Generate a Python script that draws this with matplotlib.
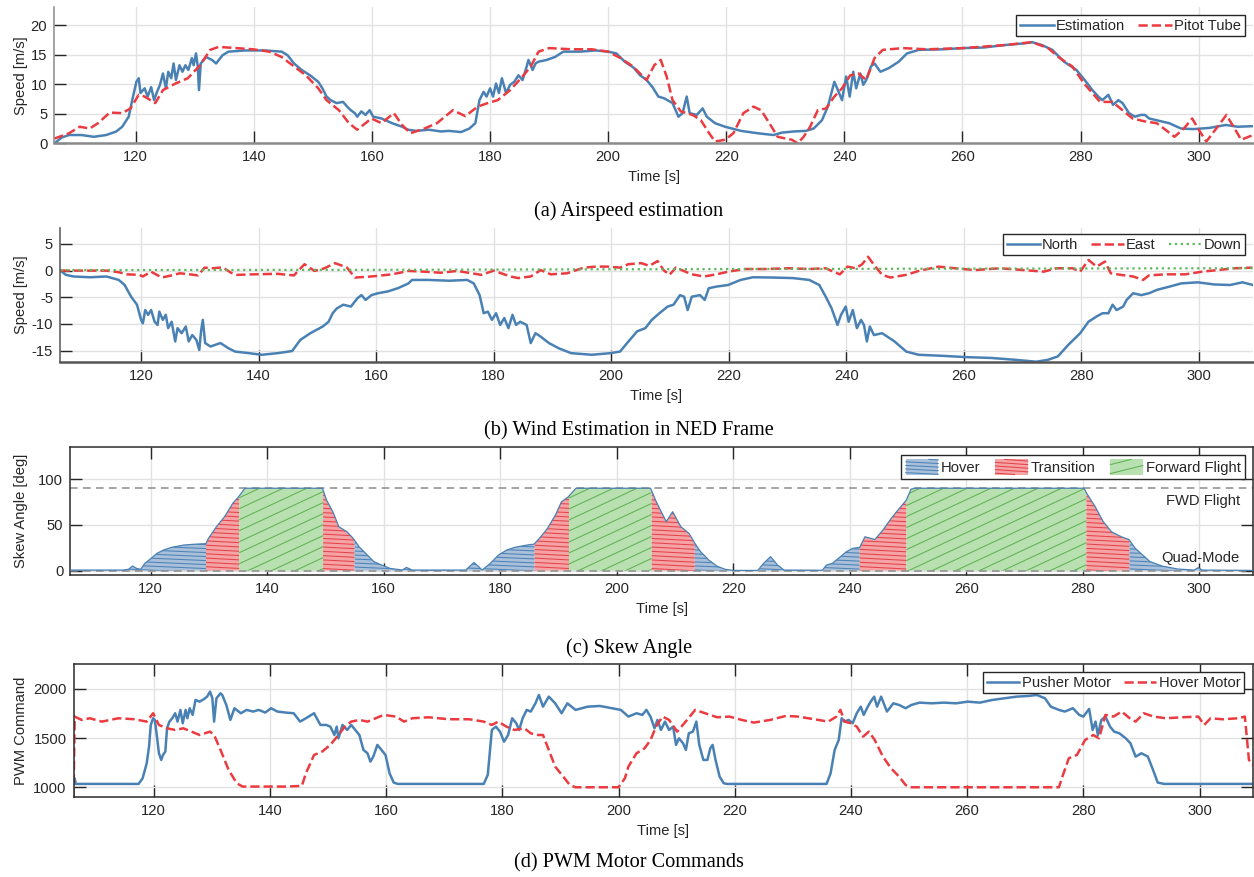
import numpy as np
import matplotlib
matplotlib.use('Agg')
import matplotlib.pyplot as plt
from matplotlib.collections import LineCollection
from matplotlib.patches import Patch, Rectangle
from matplotlib.lines import Line2D
from matplotlib.legend_handler import HandlerBase

# ---------------- data (time [s], value) ----------------
airspeed_est = [
    (106.2, 0.0), (107.5, 1.0), (108.7, 1.4), (110.8, 1.4), (112.9, 1.1), (115.0, 1.4), (116.7, 2.0),
    (117.7, 2.8), (118.8, 4.5), (119.4, 7.3), (120.1, 10.4), (120.5, 11.0), (120.8, 8.5), (121.5, 9.3),
    (122.0, 7.9), (122.6, 9.5), (123.1, 7.3), (123.6, 8.7), (124.1, 9.9), (124.6, 11.8), (125.1, 9.3),
    (125.5, 12.1), (126.0, 11.0), (126.4, 13.5), (126.8, 10.7), (127.4, 13.2), (127.9, 12.1), (128.4, 13.2),
    (128.9, 12.4), (129.5, 14.4), (129.8, 13.2), (130.2, 15.2), (130.5, 13.0), (130.7, 9.0), (131.0, 13.5),
    (131.9, 14.6), (132.9, 14.1), (133.6, 13.5), (134.7, 14.9), (135.7, 15.5), (138.5, 15.7), (141.9, 15.7),
    (144.7, 15.5), (145.7, 14.9), (146.8, 13.5), (148.1, 12.4), (149.5, 11.5), (150.9, 10.4), (151.6, 9.3),
    (152.3, 7.9), (153.0, 7.3), (154.0, 6.8), (155.1, 7.0), (155.8, 6.2), (156.4, 5.6), (157.1, 5.1),
    (157.5, 4.5), (158.2, 5.4), (158.9, 4.8), (159.6, 5.6), (160.2, 4.5), (161.6, 4.2), (163.4, 3.4),
    (165.1, 2.8), (166.1, 2.3), (167.5, 2.1), (169.6, 2.3), (171.7, 2.0), (173.0, 2.1), (175.1, 1.9),
    (176.5, 2.5), (177.5, 3.4), (178.2, 7.3), (178.9, 8.7), (179.4, 7.9), (180.0, 9.3), (180.5, 7.9),
    (181.0, 10.1), (181.5, 8.5), (182.0, 11.0), (182.7, 8.5), (183.4, 9.9), (184.1, 10.4), (184.8, 11.5),
    (185.5, 10.7), (186.2, 13.0), (186.5, 14.1), (187.2, 12.4), (187.7, 13.5), (188.2, 13.8), (189.6, 14.1),
    (191.0, 14.6), (192.4, 15.5), (195.2, 15.5), (197.9, 15.7), (200.0, 15.5), (201.4, 15.2), (202.8, 13.8),
    (204.3, 12.8), (205.4, 11.5), (206.5, 10.7), (207.5, 9.5), (208.5, 7.9), (209.5, 7.6), (210.9, 6.8),
    (211.9, 4.5), (212.6, 5.1), (213.3, 7.9), (213.8, 5.1), (215.0, 4.8), (216.0, 5.9), (216.7, 4.5),
    (218.1, 3.4), (219.8, 2.8), (222.5, 2.1), (225.3, 1.7), (228.0, 1.4), (229.4, 1.8), (231.4, 2.0),
    (233.5, 2.1), (234.8, 2.5), (236.2, 3.9), (237.2, 6.2), (238.3, 10.4), (238.9, 9.0), (239.6, 7.3),
    (240.3, 11.3), (240.9, 7.9), (241.5, 12.1), (242.0, 9.3), (242.7, 11.8), (243.2, 9.9), (243.7, 10.7),
    (244.5, 13.0), (245.1, 13.5), (246.1, 12.1), (247.5, 12.7), (249.2, 13.8), (250.6, 15.2), (252.6, 15.8),
    (256.7, 15.9), (260.1, 16.1), (263.6, 16.2), (267.0, 16.6), (270.4, 16.9), (271.8, 17.1), (273.5, 16.6),
    (275.2, 15.8), (277.2, 13.8), (279.3, 12.4), (280.7, 10.7), (282.0, 9.0), (283.0, 7.9), (283.7, 7.3),
    (284.7, 8.2), (285.5, 6.5), (286.4, 7.3), (287.1, 6.8), (288.2, 5.1), (289.2, 4.5), (290.2, 4.8),
    (290.9, 4.8), (291.6, 4.2), (292.9, 3.9), (295.0, 3.4), (297.0, 2.5), (299.1, 2.4), (301.8, 2.6),
    (304.6, 3.1), (306.6, 2.8), (309.2, 2.9)]

airspeed_pitot = [
    (106.2, 0.8), (108.7, 1.7), (110.5, 2.8), (112.2, 2.5), (113.6, 3.4), (115.6, 5.2), (117.7, 5.1),
    (119.1, 5.9), (120.5, 8.2), (121.5, 7.9), (123.3, 6.8), (124.6, 9.0), (126.7, 10.1), (128.8, 11.0),
    (130.9, 13.2), (132.6, 15.8), (134.0, 16.3), (137.1, 16.1), (139.8, 15.9), (142.6, 15.5), (144.7, 14.6),
    (146.8, 13.0), (148.8, 11.5), (150.9, 9.3), (152.3, 7.3), (154.4, 5.6), (156.1, 3.4), (157.5, 2.3),
    (158.9, 3.4), (159.9, 4.2), (161.6, 3.4), (163.7, 5.1), (165.1, 3.1), (166.5, 1.7), (168.9, 2.5),
    (171.0, 3.4), (173.7, 5.6), (175.8, 4.6), (177.9, 6.2), (179.6, 6.8), (181.3, 7.3), (183.4, 9.0),
    (185.5, 11.3), (186.9, 13.0), (188.2, 15.5), (190.0, 16.1), (193.8, 15.9), (197.2, 15.9), (200.0, 15.5),
    (202.1, 14.4), (204.2, 13.0), (206.5, 10.7), (207.8, 13.2), (208.9, 14.1), (209.9, 11.3), (210.9, 7.3),
    (212.3, 5.4), (214.3, 4.8), (215.7, 3.9), (217.1, 1.7), (218.1, 0.3), (219.8, 0.6), (221.2, 1.7),
    (222.9, 5.1), (224.6, 6.2), (225.9, 5.6), (227.3, 3.4), (228.7, 1.1), (230.1, 0.8), (231.1, 0.6),
    (232.1, 0.0), (233.1, 1.1), (234.2, 2.8), (235.5, 5.6), (236.9, 5.9), (238.3, 7.9), (239.6, 9.3),
    (241.0, 11.5), (242.4, 11.8), (243.7, 10.7), (245.1, 14.4), (246.5, 15.8), (249.9, 16.1), (254.0, 15.9),
    (260.1, 16.1), (267.0, 16.6), (271.8, 17.1), (274.5, 16.1), (276.5, 14.4), (278.6, 13.0), (280.6, 10.1),
    (282.0, 8.5), (283.3, 7.0), (285.4, 7.0), (287.1, 5.6), (288.8, 4.2), (290.9, 3.7), (292.9, 3.4),
    (294.5, 2.2), (295.9, 1.1), (297.5, 2.5), (298.9, 4.2), (300.2, 2.0), (301.3, 0.3), (302.6, 2.0),
    (304.7, 4.8), (305.9, 2.8), (307.2, 0.6), (309.2, 1.4)]

wind_north = [
    (106.3, 0.0), (107.2, -0.8), (108.5, -1.1), (111.3, -1.25), (114.1, -1.1), (116.2, -1.75), (117.2, -2.7),
    (118.3, -4.9), (119.3, -6.4), (120.0, -9.25), (120.3, -9.9), (120.7, -7.4), (121.2, -8.3), (121.7, -7.4),
    (122.3, -9.6), (122.8, -10.2), (123.1, -7.7), (123.7, -9.25), (124.2, -8.3), (124.6, -10.8), (125.2, -9.6),
    (125.8, -13.3), (126.2, -10.8), (126.9, -11.75), (127.6, -10.5), (128.1, -13.3), (128.7, -12.1),
    (129.4, -13.0), (129.9, -14.9), (130.2, -11.4), (130.5, -9.25), (130.9, -13.6), (131.8, -14.25),
    (133.5, -13.6), (134.9, -14.6), (136.0, -15.2), (138.4, -15.5), (140.5, -15.8), (143.2, -15.5),
    (145.7, -15.1), (147.1, -13.0), (148.8, -11.75), (150.9, -10.5), (151.9, -9.6), (152.6, -8.0),
    (153.3, -7.1), (154.4, -6.4), (155.7, -6.75), (156.8, -5.2), (157.5, -4.6), (158.2, -5.5), (159.2, -4.6),
    (160.3, -4.25), (162.0, -3.9), (163.7, -3.3), (165.5, -2.4), (166.1, -1.75), (168.9, -1.75),
    (172.4, -1.9), (175.5, -1.75), (176.6, -2.4), (177.6, -4.6), (178.3, -8.0), (179.0, -7.7), (179.7, -9.25),
    (180.4, -8.0), (181.1, -10.2), (181.8, -8.9), (182.5, -10.8), (183.2, -8.3), (183.8, -10.2),
    (184.5, -9.6), (185.6, -10.2), (186.3, -13.6), (187.1, -11.75), (188.0, -12.4), (189.4, -13.6),
    (191.1, -14.6), (193.2, -15.5), (196.7, -15.8), (199.8, -15.5), (201.5, -15.2), (202.7, -13.6),
    (204.4, -11.4), (205.8, -10.8), (206.9, -9.25), (208.2, -8.0), (209.6, -6.75), (210.6, -6.4),
    (211.7, -4.6), (212.4, -4.9), (213.0, -7.4), (213.7, -4.9), (215.1, -4.6), (215.9, -5.5), (216.6, -3.3),
    (217.9, -3.0), (219.9, -2.7), (222.0, -1.75), (224.1, -1.25), (227.5, -1.3), (230.9, -1.4),
    (233.7, -1.75), (235.4, -2.7), (236.5, -4.9), (237.5, -7.1), (238.5, -10.2), (239.1, -8.3),
    (239.9, -6.75), (240.4, -9.6), (241.1, -7.4), (241.8, -10.8), (242.5, -9.25), (243.0, -10.2),
    (243.5, -13.3), (244.0, -10.5), (244.7, -12.1), (246.1, -11.75), (248.2, -13.3), (250.2, -15.2),
    (252.3, -15.8), (256.4, -16.0), (260.6, -16.25), (264.7, -16.4), (268.8, -16.75), (272.3, -17.1),
    (274.3, -16.75), (276.0, -16.1), (277.8, -13.9), (279.8, -11.75), (281.2, -9.6), (282.6, -8.6),
    (283.6, -8.0), (284.6, -8.0), (285.3, -6.4), (286.0, -7.4), (287.1, -6.75), (287.7, -5.5),
    (288.8, -4.25), (290.2, -4.6), (291.5, -4.25), (292.9, -3.6), (295.0, -3.0), (297.0, -2.4),
    (299.8, -2.2), (302.6, -2.6), (305.3, -2.7), (307.4, -2.2), (309.2, -2.7)]

wind_east = [
    (106.3, 0.0), (109.9, 0.0), (114.1, 0.0), (116.2, -0.3), (117.6, -0.7), (119.7, -0.8), (120.3, -1.1),
    (121.7, -0.2), (123.5, -1.3), (125.2, -0.9), (126.6, -0.5), (128.3, -0.7), (129.7, -0.9), (130.8, 0.56),
    (132.1, 0.44), (133.9, 0.6), (135.3, -0.4), (136.3, -0.8), (139.1, -0.7), (143.2, -0.6), (146.0, -0.9),
    (147.8, 1.2), (149.5, -0.06), (151.2, 0.44), (153.0, 1.4), (155.0, 0.6), (156.4, -1.3), (159.2, -1.1),
    (162.7, -0.7), (165.5, -0.06), (168.2, -0.2), (171.0, -0.4), (173.8, -0.06), (177.9, -0.8), (180.0, 0.0),
    (182.8, -1.1), (184.2, -1.4), (186.3, -1.1), (188.0, 0.1), (189.7, -0.7), (192.5, -0.5), (195.3, 0.56),
    (197.4, 0.75), (199.5, 0.75), (201.5, 0.56), (202.9, 1.2), (205.1, 1.4), (206.5, 0.9), (207.9, 1.8),
    (208.9, 0.1), (209.9, -0.8), (211.0, 0.56), (213.7, -0.7), (215.8, -1.1), (217.9, -0.7), (219.9, -0.2),
    (222.7, 0.3), (226.1, 0.3), (230.3, 0.44), (233.7, 0.3), (236.5, 0.44), (237.8, -0.2), (238.9, -0.7),
    (240.2, 0.75), (241.6, 0.44), (242.7, 1.2), (243.7, 2.6), (244.7, 1.1), (246.1, -0.8), (247.5, -1.3),
    (250.2, -0.8), (252.3, -0.06), (255.7, 0.75), (258.5, 0.44), (261.9, 0.1), (266.1, 0.44), (270.2, 0.1),
    (273.6, -0.2), (275.7, 0.44), (278.5, 0.44), (279.8, -0.2), (281.2, 2.0), (282.6, 0.75), (284.0, 1.7),
    (285.0, -0.5), (286.7, -0.8), (288.8, -1.1), (290.5, -1.75), (291.5, -0.9), (294.3, -0.7), (297.7, -0.7),
    (300.5, -0.2), (303.2, 0.1), (306.0, 0.44), (309.1, 0.56)]

wind_down = [(106.3, 0.1), (160.0, 0.15), (200.0, 0.25), (250.0, 0.35), (309.2, 0.45)]

skew_angle = [
    (106.2, 0.7), (115.2, 0.7), (116.2, 1.5), (116.9, 5.1), (117.6, 2.5), (118.3, 1.5), (119.0, 8.0),
    (120.1, 13.5), (121.1, 19.0), (122.2, 22.5), (123.6, 25.5), (125.7, 28.0), (127.8, 29.0), (129.5, 29.5),
    (129.9, 35.0), (131.3, 48.0), (132.7, 59.0), (134.1, 73.5), (135.1, 80.7), (136.2, 90.0), (149.5, 90.0),
    (150.2, 77.0), (151.3, 64.0), (152.3, 48.0), (153.7, 42.5), (154.8, 35.0), (155.8, 26.0), (157.2, 17.0),
    (158.3, 10.0), (159.7, 6.0), (161.1, 2.5), (163.2, 0.7), (163.9, 3.6), (164.9, 0.7), (174.1, 0.7),
    (174.8, 5.0), (175.5, 9.0), (176.2, 5.0), (176.9, 0.7), (178.3, 8.0), (179.7, 17.0), (181.1, 22.5),
    (182.5, 25.5), (184.6, 28.0), (185.8, 29.0), (186.7, 35.0), (188.1, 46.0), (189.5, 61.0), (190.5, 75.0),
    (191.7, 80.7), (193.0, 90.0), (205.8, 90.0), (206.8, 75.0), (207.9, 61.0), (208.5, 53.5), (209.6, 64.4),
    (211.0, 48.0), (212.4, 40.7), (213.4, 30.0), (214.4, 20.7), (215.8, 11.6), (217.2, 5.0), (218.6, 1.5),
    (220.0, 0.3), (224.2, 0.3), (225.2, 8.0), (226.4, 15.3), (227.6, 6.2), (228.7, 0.7), (235.3, 0.5),
    (236.0, 6.2), (237.0, 8.0), (238.4, 15.3), (239.4, 20.7), (240.5, 24.4), (241.7, 25.5), (242.6, 37.0),
    (244.3, 34.0), (245.7, 44.4), (247.1, 57.0), (248.5, 68.0), (249.7, 77.0), (250.5, 89.0), (251.2, 90.0),
    (280.2, 90.0), (280.7, 84.0), (282.1, 70.0), (283.5, 53.5), (284.9, 42.5), (286.6, 37.0), (287.9, 34.0),
    (289.0, 24.4), (290.1, 18.0), (291.5, 10.0), (293.6, 5.0), (296.3, 1.8), (299.1, 0.7), (299.8, 3.3),
    (300.5, 0.7), (309.2, 0.3)]

phase_edges = [106.2, 129.5, 135.2, 149.6, 155.0, 185.9, 191.8, 206.0, 213.4, 241.7, 249.7, 280.6, 288.0, 309.2]
phase_kind = ['Hover', 'Transition', 'Forward Flight', 'Transition', 'Hover', 'Transition', 'Forward Flight',
              'Transition', 'Hover', 'Transition', 'Forward Flight', 'Transition', 'Hover']
phase_legend = ['Hover', 'Transition', 'Forward Flight']
skew_fwd_level = 90
skew_quad_level = 0

pwm_pusher = [
    (106.2, 1034), (106.4, 1090), (106.6, 1034), (117.4, 1034), (118.1, 1092), (118.8, 1244), (119.2, 1414),
    (119.5, 1634), (119.9, 1702), (120.2, 1685), (120.6, 1498), (120.9, 1346), (121.3, 1278), (121.6, 1329),
    (122.0, 1363), (122.3, 1600), (122.7, 1668), (123.2, 1702), (123.7, 1753), (124.1, 1668), (124.6, 1787),
    (125.0, 1651), (125.5, 1787), (125.8, 1702), (126.2, 1804), (126.7, 1736), (127.2, 1888), (127.9, 1871),
    (128.6, 1895), (129.2, 1922), (129.7, 1973), (130.1, 1905), (130.4, 1668), (130.8, 1905), (131.5, 1956),
    (131.8, 1939), (132.5, 1837), (133.2, 1685), (133.9, 1804), (135.0, 1753), (136.0, 1787), (137.1, 1770),
    (138.1, 1787), (139.2, 1760), (140.2, 1804), (141.3, 1770), (142.7, 1760), (144.1, 1753), (145.2, 1668),
    (146.2, 1702), (147.6, 1753), (148.7, 1634), (149.7, 1634), (150.4, 1617), (151.1, 1532), (151.5, 1617),
    (151.8, 1498), (152.5, 1634), (153.3, 1583), (154.0, 1634), (154.7, 1583), (155.4, 1532), (156.1, 1380),
    (156.8, 1346), (157.3, 1261), (157.8, 1312), (158.5, 1431), (159.2, 1380), (159.9, 1329), (160.6, 1142),
    (161.3, 1048), (162.0, 1034), (176.8, 1034), (177.5, 1126), (178.2, 1583), (178.9, 1617), (179.6, 1566),
    (180.3, 1464), (181.0, 1532), (181.7, 1702), (182.4, 1651), (182.9, 1583), (183.5, 1702), (184.2, 1787),
    (184.9, 1770), (185.7, 1854), (186.3, 1939), (187.0, 1820), (188.0, 1922), (189.1, 1854), (190.2, 1753),
    (191.2, 1854), (192.6, 1787), (194.7, 1820), (196.8, 1827), (198.9, 1804), (200.4, 1787), (201.7, 1719),
    (203.1, 1753), (204.1, 1736), (204.8, 1787), (205.5, 1719), (206.2, 1600), (206.7, 1685), (207.3, 1583),
    (208.0, 1668), (208.7, 1583), (209.4, 1617), (209.9, 1431), (210.4, 1498), (211.1, 1448), (211.6, 1380),
    (212.1, 1549), (212.8, 1566), (213.4, 1668), (213.9, 1431), (214.6, 1278), (215.3, 1278), (215.8, 1397),
    (216.2, 1431), (216.7, 1278), (217.4, 1108), (218.1, 1041), (218.7, 1034), (235.8, 1034), (236.5, 1142),
    (237.2, 1380), (237.9, 1481), (238.4, 1702), (238.9, 1668), (239.6, 1685), (240.3, 1651), (241.0, 1753),
    (241.7, 1820), (242.2, 1736), (242.9, 1820), (243.4, 1871), (244.0, 1922), (244.5, 1820), (245.2, 1922),
    (246.2, 1770), (247.3, 1854), (248.3, 1837), (249.4, 1804), (250.4, 1837), (251.8, 1861), (253.9, 1854),
    (256.0, 1861), (258.1, 1854), (260.1, 1871), (262.2, 1861), (264.3, 1888), (266.4, 1905), (268.5, 1922),
    (270.6, 1929), (272.0, 1939), (273.4, 1905), (274.4, 1820), (275.8, 1787), (276.8, 1770), (278.2, 1804),
    (279.3, 1736), (280.0, 1719), (281.0, 1797), (281.6, 1583), (282.1, 1668), (282.5, 1532), (283.1, 1685),
    (283.8, 1719), (284.6, 1617), (285.3, 1566), (286.2, 1549), (287.3, 1498), (288.1, 1448), (289.0, 1312),
    (290.0, 1346), (291.1, 1312), (292.0, 1176), (292.8, 1048), (293.9, 1034), (309.2, 1034)]

pwm_hover = [
    (106.2, 905), (106.4, 1719), (107.6, 1685), (109.0, 1702), (111.1, 1668), (113.9, 1702), (116.7, 1692),
    (118.8, 1668), (119.9, 1753), (120.9, 1634), (122.3, 1600), (123.7, 1583), (125.1, 1600), (126.5, 1566),
    (127.9, 1532), (129.7, 1566), (130.4, 1532), (131.5, 1380), (132.9, 1176), (134.3, 1041), (135.3, 1007),
    (142.7, 1007), (145.5, 1014), (146.2, 1142), (147.6, 1329), (149.0, 1363), (150.4, 1431), (151.8, 1532),
    (152.9, 1617), (154.0, 1668), (155.4, 1685), (156.8, 1668), (158.2, 1702), (159.6, 1736), (161.7, 1719),
    (163.1, 1668), (164.5, 1702), (167.3, 1712), (170.8, 1692), (174.3, 1692), (176.8, 1668), (178.2, 1634),
    (179.3, 1668), (180.7, 1617), (182.1, 1583), (183.8, 1600), (184.9, 1549), (185.9, 1532), (187.0, 1532),
    (188.0, 1380), (189.1, 1210), (190.5, 1108), (191.6, 1024), (192.6, 1000), (200.0, 1000), (201.1, 1092),
    (201.7, 1210), (203.1, 1346), (204.5, 1397), (205.5, 1481), (206.6, 1634), (207.6, 1719), (208.7, 1685),
    (210.1, 1566), (211.8, 1685), (213.2, 1787), (214.9, 1753), (217.0, 1712), (219.1, 1719), (221.2, 1685),
    (223.3, 1658), (226.1, 1685), (228.8, 1726), (230.9, 1719), (233.7, 1692), (236.1, 1668), (237.5, 1719),
    (238.2, 1787), (238.9, 1668), (240.0, 1651), (241.0, 1617), (242.1, 1515), (243.1, 1566), (244.1, 1481),
    (245.5, 1312), (246.9, 1193), (248.3, 1108), (249.4, 1024), (250.1, 1000), (275.8, 1000), (276.5, 1126),
    (277.5, 1295), (278.9, 1329), (280.3, 1481), (281.7, 1532), (282.7, 1498), (283.8, 1736), (285.2, 1719),
    (286.6, 1770), (288.0, 1702), (289.0, 1668), (290.4, 1753), (292.1, 1719), (294.2, 1702), (297.0, 1712),
    (299.8, 1719), (300.8, 1634), (301.9, 1702), (303.9, 1692), (306.7, 1702), (307.8, 1719), (308.5, 1278),
    (309.2, 1227)]

x_ticks = [120, 140, 160, 180, 200, 220, 240, 260, 280, 300]
captions = ['(a) Airspeed estimation', '(b) Wind Estimation in NED Frame', '(c) Skew Angle',
            '(d) PWM Motor Commands']


def unzip(pairs):
    a = np.array(pairs, dtype=float)
    return a[:, 0], a[:, 1]


# ---------------- style ----------------
W_PX, H_PX, DPI = 1254, 877, 100
plt.rcParams['font.family'] = ['Liberation Sans', 'DejaVu Sans']
plt.rcParams['font.size'] = 10.6
plt.rcParams['axes.unicode_minus'] = False

BLUE = '#4a81b4'
RED = '#eb3b40'
GREEN = '#5cb85c'
TXT = '#262626'
XLIM = (106.2, 309.2)
LW = 1.8

fig = plt.figure(figsize=(W_PX / DPI, H_PX / DPI), dpi=DPI)
fig.patch.set_facecolor('white')


def px_rect(l, t, r, b):
    return [l / W_PX, 1 - b / H_PX, (r - l) / W_PX, (b - t) / H_PX]


def style_axes(ax, box, l, r, spine_col):
    ax.set_xlim(*XLIM)
    ax.set_xticks(x_ticks)
    ax.grid(True, color='#e2e2e2', lw=1.0)
    ax.set_axisbelow(True)
    ax.tick_params(direction='in', length=8.5, width=1.0, color=TXT, labelcolor=TXT,
                   pad=5, top=box, right=box, labelsize=10.6)
    for s in ['top', 'right']:
        ax.spines[s].set_visible(box)
    for s in ax.spines.values():
        s.set_color(spine_col)
        s.set_linewidth(1.1)
    if not box:
        ax.spines['bottom'].set_linewidth(1.8)
    ax.set_xlabel('Time [s]', color=TXT, labelpad=4.5)
    ax.yaxis.set_label_coords((28 - l) / (r - l), 0.5)


def legend(ax, handles, labels, right, top, **kw):
    opts = dict(borderpad=0.25, handletextpad=0.15, columnspacing=0.9)
    opts.update(kw)
    lg = ax.legend(handles, labels, ncol=len(handles), loc='upper right',
                   bbox_to_anchor=(right / W_PX, 1 - top / H_PX), bbox_transform=fig.transFigure,
                   borderaxespad=0, frameon=True, fancybox=False, framealpha=1, edgecolor=TXT,
                   fontsize=10.6, **opts)
    lg.get_frame().set_linewidth(1.0)
    for t in lg.get_texts():
        t.set_color(TXT)
    return lg


# ---------------- (a) ----------------
la, ra = 54.3, 1253
ax = fig.add_axes(px_rect(la, 7.3, ra, 143.3))
t, v = unzip(airspeed_est)
h1, = ax.plot(t, v, color=BLUE, lw=LW)
t, v = unzip(airspeed_pitot)
h2, = ax.plot(t, v, color=RED, lw=LW, ls='--')
ax.set_ylim(0, 23)
ax.set_yticks([0, 5, 10, 15, 20])
ax.set_ylabel('Speed [m/s]', color=TXT)
style_axes(ax, False, la, ra, '#8a8a8a')
legend(ax, [h1, h2], ['Estimation', 'Pitot Tube'], 1245, 15, handlelength=2.3)

# ---------------- (b) ----------------
lb, rb = 60, 1253
ax = fig.add_axes(px_rect(lb, 228, rb, 361.7))
t, v = unzip(wind_north)
h1, = ax.plot(t, v, color=BLUE, lw=LW)
t, v = unzip(wind_east)
h2, = ax.plot(t, v, color=RED, lw=LW, ls='--')
t, v = unzip(wind_down)
h3, = ax.plot(t, v, color=GREEN, lw=1.6, ls=':')
ax.set_ylim(-17.1, 8)
ax.set_yticks([-15, -10, -5, 0, 5])
ax.set_ylabel('Speed [m/s]', color=TXT)
style_axes(ax, False, lb, rb, '#555555')
legend(ax, [h1, h2, h3], ['North', 'East', 'Down'], 1245, 234, handlelength=2.2)

# ---------------- (c) ----------------
lc_, rc_ = 70.2, 1253
top_c, bot_c = 447, 575
ax = fig.add_axes(px_rect(lc_, top_c, rc_, bot_c))
ts, ys = unzip(skew_angle)
Wp, Hp = rc_ - lc_, bot_c - top_c

phase_style = {
    'Hover': dict(fc='#a8c0da', lc='#4f82b6', ang=-2.5, sp=4.0, lang=-3.0, lsp=3.6),
    'Transition': dict(fc='#f5a3a5', lc='#e4434a', ang=-3.0, sp=4.3, lang=-4.0, lsp=3.6),
    'Forward Flight': dict(fc='#b8e0b0', lc='#5fb352', ang=25.0, sp=11.0, lang=14.0, lsp=9.0),
}


def add_hatch(ax, patch, ang, sp, color):
    tn = np.tan(np.radians(ang))
    cs = np.arange(-abs(tn) * Wp - sp, Hp + abs(tn) * Wp + sp, sp)
    segs = [[(0.0, c / Hp), (1.0, (tn * Wp + c) / Hp)] for c in cs]
    lcol = LineCollection(segs, colors=color, linewidths=0.75, transform=ax.transAxes, zorder=1.6)
    ax.add_collection(lcol, autolim=False)
    lcol.set_clip_path(patch)


for a, b, kind in zip(phase_edges[:-1], phase_edges[1:], phase_kind):
    st = phase_style[kind]
    m = (ts > a) & (ts < b)
    ya, yb = np.interp(a, ts, ys), np.interp(b, ts, ys)
    px = np.concatenate([[a, a], ts[m], [b, b]])
    py = np.concatenate([[0, ya], ys[m], [yb, 0]])
    patch = ax.fill(px, py, facecolor=st['fc'], edgecolor='none', zorder=1.5)[0]
    add_hatch(ax, patch, st['ang'], st['sp'], st['lc'])

ax.axhline(skew_fwd_level, color='#8c8c8c', lw=1.1, ls=(0, (5, 3.5)), zorder=2)
ax.axhline(skew_quad_level, color='#8c8c8c', lw=1.1, ls=(0, (5, 3.5)), zorder=2)
ax.plot(ts, ys, color=BLUE, lw=0.9, zorder=3)
ax.text(300.0 + (1240.5 - 1199.5) / 5.81, 76, 'FWD Flight', ha='right', va='center', color=TXT, zorder=4)
ax.text(300.0 + (1239.5 - 1199.5) / 5.81, 13.5, 'Quad-Mode', ha='right', va='center', color=TXT, zorder=4)
ax.set_ylim(-4.7, 135)
ax.set_yticks([0, 50, 100])
ax.set_ylabel('Skew Angle [deg]', color=TXT)
style_axes(ax, True, lc_, rc_, '#2b2b2b')


class PhaseHandler(HandlerBase):
    """Legend key: filled box with the same line hatching as the areas."""

    def create_artists(self, legend, orig_handle, xd, yd, w, h, fontsize, trans):
        st = phase_style[orig_handle.get_label()]
        x0, y0 = -xd, -yd
        arts = [Rectangle((x0, y0), w, h, facecolor=st['fc'], edgecolor='none', transform=trans)]
        tn = np.tan(np.radians(st['lang']))
        sp = st['lsp'] * 72.0 / DPI
        for c in np.arange(-abs(tn) * w - sp, h + abs(tn) * w + sp, sp):
            if abs(tn) < 1e-9:
                if 0 <= c <= h:
                    xa, xb = 0.0, w
                else:
                    continue
            else:
                x1, x2 = (0 - c) / tn, (h - c) / tn
                xa, xb = max(0.0, min(x1, x2)), min(w, max(x1, x2))
                if xb <= xa:
                    continue
            arts.append(Line2D([x0 + xa, x0 + xb], [y0 + tn * xa + c, y0 + tn * xb + c],
                               color=st['lc'], lw=0.75, transform=trans))
        return arts


handles = [Patch(label=k) for k in phase_legend]
legend(ax, handles, phase_legend, 1245, 455, handlelength=2.2, handleheight=1.2,
       borderpad=0.3, handletextpad=0.2, columnspacing=1.0,
       handler_map={Patch: PhaseHandler()})

# ---------------- (d) ----------------
ld, rd = 73.5, 1253
ax = fig.add_axes(px_rect(ld, 664, rd, 797))
t, v = unzip(pwm_pusher)
h1, = ax.plot(t, v, color=BLUE, lw=LW)
t, v = unzip(pwm_hover)
h2, = ax.plot(t, v, color=RED, lw=LW, ls='--')
ax.set_ylim(901, 2254)
ax.set_yticks([1000, 1500, 2000])
ax.set_ylabel('PWM Command', color=TXT)
style_axes(ax, True, ld, rd, '#2b2b2b')
legend(ax, [h1, h2], ['Pusher Motor', 'Hover Motor'], 1244, 672, handlelength=2.2)

# ---------------- captions ----------------
for cap, yb in zip(captions, [216, 435, 653, 867]):
    fig.text(629 / W_PX, 1 - yb / H_PX, cap, ha='center', va='baseline', fontsize=14.6,
             family=['Liberation Serif', 'DejaVu Serif'], color='black')

fig.savefig('out.png', dpi=DPI, facecolor='white')
